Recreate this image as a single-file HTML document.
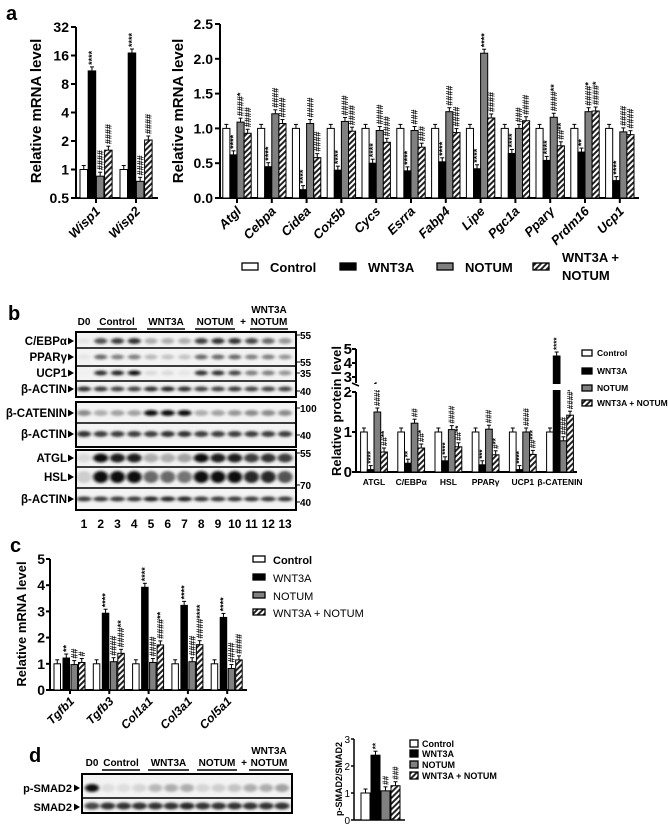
<!DOCTYPE html>
<html><head><meta charset="utf-8"><style>
html,body{margin:0;padding:0;background:#fff;}
svg{display:block;font-family:"Liberation Sans",Arial,sans-serif;}
</style></head><body>
<svg id="fig" width="668" height="827" viewBox="0 0 668 827" xmlns="http://www.w3.org/2000/svg">
<defs>
<pattern id="hatch" patternUnits="userSpaceOnUse" width="4" height="4" patternTransform="rotate(45)">
<rect width="4" height="4" fill="#fff"/><rect width="2" height="4" fill="#222"/>
</pattern>
<filter id="blur" x="-50%" y="-100%" width="200%" height="300%"><feGaussianBlur stdDeviation="1.6 1.2"/></filter>
</defs>
</svg>
<script>
// ---------- DATA ----------
const groups = ["Control","WNT3A","NOTUM","WNT3A + NOTUM"];
const aLeftCats = ["Wisp1","Wisp2"];
const aLeftCtrl = [1,1];
const aLeftWnt = [11,17];
const aLeftNot = [0.85,0.75];
const aLeftCombo = [1.6,2.05];
const aLeftTicks = [0.5,1,2,4,8,16,32];
const aLeftAnn = [["****","####","####"],["****","####","####"]];

const aRightCats = ["Atgl","Cebpa","Cidea","Cox5b","Cycs","Esrra","Fabp4","Lipe","Pgc1a","Ppar\u03b3","Prdm16","Ucp1"];
const aRightCtrl = [1,1,1,1,1,1,1,1,1,1,1,1];
const aRightWnt = [0.62,0.45,0.12,0.40,0.50,0.39,0.52,0.42,0.64,0.54,0.66,0.25];
const aRightNot = [1.09,1.21,1.07,1.10,0.97,0.97,1.24,2.08,1.00,1.16,1.24,0.95];
const aRightCombo = [0.93,1.07,0.58,0.96,0.80,0.73,0.94,1.15,1.11,0.75,1.25,0.91];
const aRightTicks = [0,0.5,1.0,1.5,2.0,2.5];
const aRightAnn = [["****","####*","####"],["****","####","####"],["****","####","####"],["****","####","####"],["****","####","####"],["****","###","###"],["****","####","####"],["****","****","####"],["****","###","####"],["****","####**","##**"],["**","####*","####*"],["****","####","####"]];

const bCats = ["ATGL","C/EBP\u03b1","HSL","PPAR\u03b3","UCP1","\u03b2-CATENIN"];
const bCtrl = [1,1,1,1,1,1];
const bWnt = [0.06,0.22,0.28,0.18,0.06,4.5];
const bNot = [1.5,1.22,1.06,1.07,1.0,0.78];
const bCombo = [0.5,0.6,0.63,0.43,0.44,1.42];
const bTicks = [0,1,2,3,4,5];
const bAnn = [["****","####**","##**"],["**","##","##*"],["****","####","##**"],["***","###","#**"],["****","####","##***"],["****","####","####*"]];

const cCats = ["Tgfb1","Tgfb3","Col1a1","Col3a1","Col5a1"];
const cCtrl = [1,1,1,1,1];
const cWnt = [1.22,2.93,3.92,3.23,2.77];
const cNot = [0.97,1.08,1.05,1.08,0.82];
const cCombo = [1.05,1.40,1.72,1.73,1.15];
const cTicks = [0,1,2,3,4,5];
const cAnn = [["**","##","#"],["****","####","####**"],["****","####","####**"],["****","####","####****"],["****","####","####"]];

const dCtrl = [1];
const dWnt = [2.4];
const dNot = [1.08];
const dCombo = [1.27];
const dTicks = [0,1,2,3];
const dAnn = [["**","##","###"]];

const laneNums = ["1","2","3","4","5","6","7","8","9","10","11","12","13"];
const bandCebpa = [0.05,0.7,0.8,0.85,0.3,0.3,0.3,0.8,0.85,0.85,0.75,0.6,0.4];
const bandPparg = [0.05,0.6,0.5,0.5,0.25,0.2,0.2,0.6,0.6,0.6,0.5,0.5,0.4];
const bandUcp1 = [0,0.85,0.9,1,0.1,0.1,0.05,0.85,0.85,0.75,0.5,0.5,0.4];
const bandActin1 = [0.85,0.8,0.75,0.75,0.85,0.9,0.85,0.75,0.75,0.8,0.75,0.75,0.75];
const bandCat = [0.45,0.3,0.35,0.35,1,1,1,0.3,0.35,0.4,0.45,0.45,0.45];
const bandActin2 = [0.85,0.8,0.8,0.8,0.8,0.85,0.85,0.8,0.8,0.8,0.8,0.8,0.8];
const bandAtgl = [0.1,1,0.95,0.95,0.3,0.3,0.35,1,0.95,0.95,0.8,0.85,0.8];
const bandHsl = [0.15,1,1,1,0.6,0.6,0.55,1,1,1,0.9,0.9,0.7];
const bandActin3 = [0.8,0.8,0.8,0.8,0.9,0.9,0.9,0.8,0.8,0.8,0.8,0.8,0.8];
const bandPsmad = [1,0.08,0.08,0.12,0.25,0.3,0.3,0.12,0.15,0.2,0.3,0.3,0.35];
const bandSmad = [0.75,0.85,0.85,0.85,0.85,0.85,0.9,0.85,0.85,0.85,0.85,0.85,0.85];

// ---------- HELPERS ----------
const svg = document.getElementById('fig');
const NS = "http://www.w3.org/2000/svg";
function el(tag, attrs, parent){
  const e = document.createElementNS(NS, tag);
  for (const k in attrs) e.setAttribute(k, attrs[k]);
  (parent||svg).appendChild(e);
  return e;
}
function txt(x,y,s,size,opts,parent){
  opts = opts||{};
  const t = el('text',{x:x,y:y,'font-size':size,'font-weight':opts.w||'bold','text-anchor':opts.a||'start',fill:opts.fill||'#000'},parent);
  if (opts.italic) t.setAttribute('font-style','italic');
  if (opts.tr) t.setAttribute('transform',opts.tr);
  t.textContent = s;
  return t;
}
const fills = ["#fff","#000","#808080","url(#hatch)"];
function legendSwatch(x,y,w,h,i,parent){
  return el('rect',{x:x,y:y,width:w,height:h,fill:fills[i],stroke:'#000','stroke-width':1.3},parent);
}

function drawBars(g, cats, series, yf, base, barX, barW, ann, annSize){
  for (let c=0;c<cats.length;c++){
    for (let s=0;s<4;s++){
      const v = series[s][c];
      const x = barX(c,s);
      const yt = yf(v);
      const b = el('rect',{x:x,y:Math.min(yt,base),width:barW,height:Math.abs(base-yt),fill:fills[s],stroke:'#000','stroke-width':1},g);
      
      
      el('line',{x1:x+barW/2,x2:x+barW/2,y1:yt,y2:yt-4,stroke:'#000','stroke-width':1},g);
      el('line',{x1:x+barW/2-2,x2:x+barW/2+2,y1:yt-4,y2:yt-4,stroke:'#000','stroke-width':1},g);
      if (s>0 && ann && ann[c][s-1]){
        const ax = x+barW/2+annSize*0.35, ay = Math.min(yt,base)-6;
        const a = txt(ax,ay,ann[c][s-1],annSize,{w:'bold',tr:'rotate(-90 '+ax+' '+ay+')'},g);
        
        
      }
    }
  }
}

// ---------- PANEL LABELS ----------
[['a',6,20],['b',8,320],['c',10,552],['d',29,762]].forEach(p=>{
  const t = txt(p[1],p[2],p[0],20,{});
  
  
});

// ---------- PANEL A LEFT ----------
(function(){
  const g = el('g',{});
  
  
  const x0 = 76, base = 198;
  const yf = v => base - Math.log2(v/0.5)*28.5;
  el('line',{x1:x0,x2:x0,y1:yf(32),y2:base,stroke:'#000','stroke-width':2},g);
  el('line',{x1:x0,x2:158,y1:base,y2:base,stroke:'#000','stroke-width':2},g);
  aLeftTicks.forEach(t=>{
    el('line',{x1:x0-5,x2:x0,y1:yf(t),y2:yf(t),stroke:'#000','stroke-width':2},g);
    const l = txt(x0-7,yf(t)+5,String(t),14,{a:'end'},g);
    
    
  });
  const yl = txt(0,0,'Relative mRNA level',15,{a:'middle',tr:'translate(41,111) rotate(-90)'},g);
  
  
  const centers = [96,136];
  drawBars(g,aLeftCats,[aLeftCtrl,aLeftWnt,aLeftNot,aLeftCombo],yf,base,(c,s)=>centers[c]-16+s*8.2,7.5,aLeftAnn,9);
  aLeftCats.forEach((c,i)=>{
    el('line',{x1:centers[i],x2:centers[i],y1:base,y2:base+5,stroke:'#000','stroke-width':2},g);
    const l = txt(centers[i]+5,base+14,c,13,{a:'end',italic:true,tr:'rotate(-45 '+(centers[i]+5)+' '+(base+14)+')'},g);
    
    
  });
})();

// ---------- PANEL A RIGHT ----------
(function(){
  const g = el('g',{});
  
  
  const x0 = 220, base = 198;
  const yf = v => base - v*69.6;
  el('line',{x1:x0,x2:x0,y1:yf(2.5),y2:base,stroke:'#000','stroke-width':2},g);
  el('line',{x1:x0,x2:639,y1:base,y2:base,stroke:'#000','stroke-width':2},g);
  aRightTicks.forEach(t=>{
    el('line',{x1:x0-5,x2:x0,y1:yf(t),y2:yf(t),stroke:'#000','stroke-width':2},g);
    const l = txt(x0-7,yf(t)+5,t.toFixed(1),14,{a:'end'},g);
    
    
  });
  const yl = txt(0,0,'Relative mRNA level',15,{a:'middle',tr:'translate(183,111) rotate(-90)'},g);
  
  
  const cx = i => 237 + i*34.8;
  drawBars(g,aRightCats,[aRightCtrl,aRightWnt,aRightNot,aRightCombo],yf,base,(c,s)=>cx(c)-14.2+s*7.1,7.1,aRightAnn,9);
  aRightCats.forEach((c,i)=>{
    el('line',{x1:cx(i),x2:cx(i),y1:base,y2:base+5,stroke:'#000','stroke-width':2},g);
    const l = txt(cx(i)+5,base+14,c,13,{a:'end',italic:true,tr:'rotate(-45 '+(cx(i)+5)+' '+(base+14)+')'},g);
    
    
  });
  const lg = el('g',{},g);
  
  
  const lx = [242,340,437,533], tx=[270,368,465,562];
  for (let i=0;i<4;i++){
    legendSwatch(lx[i],263,16,7,i,lg);
    if (i<3){ const t=txt(tx[i],272,groups[i],13,{},lg);   }
  }
  const t1 = txt(562,262,'WNT3A +',13,{},lg);
  
  
  const t2 = txt(562,280,'NOTUM',13,{},lg);
  
  
})();

// ---------- BLOT HELPERS ----------
function lanesX(i, x0, x1){ return x0 + i*(x1-x0)/12; }
function bandRow(g, vals, cy, h, x0, x1, bw){
  vals.forEach((v,i)=>{
    const x = lanesX(i,x0,x1);
    const shade = Math.round(240 - v*225);
    const b = el('ellipse',{cx:x,cy:cy,rx:bw/2,ry:h/2,fill:'rgb('+shade+','+shade+','+shade+')',filter:'url(#blur)'},g);
    
    
  });
}
function header(g, y, opts){
  const t = (X,Y,s)=>{ const e=txt(X,Y,s,10,{a:'middle'},g);   return e; };
  t(opts.d0,y,'D0');
  const gr = opts.groups;
  const names = ['Control','WNT3A','NOTUM'];
  for (let i=0;i<3;i++){
    t((gr[i][0]+gr[i][1])/2,y,names[i]);
    el('line',{x1:gr[i][0],x2:gr[i][1],y1:y+4,y2:y+4,stroke:'#000','stroke-width':1.5},g);
  }
  t(opts.plus,y,'+');
  t((gr[3][0]+gr[3][1])/2,y,'NOTUM');
  el('line',{x1:gr[3][0],x2:gr[3][1],y1:y+4,y2:y+4,stroke:'#000','stroke-width':1.5},g);
  t((gr[3][0]+gr[3][1])/2,y-12,'WNT3A');
}

// ---------- PANEL B BLOT ----------
(function(){
  const g = el('g',{});
  
  
  header(g,325,{d0:84,plus:243,groups:[[97,137],[147,185],[195,235],[250,288]]});
  const X0=76,X1=296, L0=84, L1=285;
  const boxes = [[332,397],[402,447],[450,510]];
  boxes.forEach(b=>el('rect',{x:X0,y:b[0],width:X1-X0,height:b[1]-b[0],fill:'#f3f3f3',stroke:'none'},g));
  bandRow(g,bandCebpa,341,6,L0,L1,13);
  bandRow(g,bandPparg,357,5,L0,L1,13);
  bandRow(g,bandUcp1,373,5,L0,L1,13);
  bandRow(g,bandActin1,389,5,L0,L1,14);
  bandRow(g,bandCat,413,6,L0,L1,14);
  bandRow(g,bandActin2,434,6,L0,L1,14);
  bandRow(g,bandAtgl,458,9,L0,L1,15);
  bandRow(g,bandHsl,477,12,L0,L1,15);
  bandRow(g,bandActin3,499,5,L0,L1,15);
  boxes.forEach(b=>el('rect',{x:X0,y:b[0],width:X1-X0,height:b[1]-b[0],fill:'none',stroke:'#000','stroke-width':2},g));
  [348,366,381,423,467,488].forEach(y=>el('line',{x1:X0,x2:X1,y1:y,y2:y,stroke:'#000','stroke-width':1.5},g));
  const rows = [['C/EBP\u03b1',341],['PPAR\u03b3',357],['UCP1',373],['\u03b2-ACTIN',389],['\u03b2-CATENIN',413],['\u03b2-ACTIN',434],['ATGL',458],['HSL',477],['\u03b2-ACTIN',499]];
  rows.forEach(r=>{
    const t = txt(67,r[1]+4,r[0],11.5,{a:'end'},g);
    
    
    el('path',{d:'M68 '+(r[1]-3.5)+' L74 '+r[1]+' L68 '+(r[1]+3.5)+' Z',fill:'#000'},g);
  });
  const mw = [['55',335],['55',362],['35',373],['40',391],['100',408],['40',435],['55',453],['70',485],['40',502]];
  mw.forEach(m=>{
    el('line',{x1:296,x2:300,y1:m[1],y2:m[1],stroke:'#000','stroke-width':1},g);
    const t = txt(300,m[1]+4,m[0],10,{},g);
    
    
  });
  laneNums.forEach((n,i)=>{
    const t = txt(lanesX(i,L0,L1),528,n,12,{a:'middle'},g);
    
    
  });
})();

// ---------- PANEL B CHART ----------
(function(){
  const g = el('g',{});
  
  
  const x0 = 356, base = 472;
  const yf = v => v<=2.6 ? base - v*40 : 377 - (v-3)*14;
  el('line',{x1:x0,x2:x0,y1:yf(2),y2:base,stroke:'#000','stroke-width':2},g);
  el('line',{x1:x0,x2:x0,y1:yf(5),y2:383,stroke:'#000','stroke-width':2},g);
  el('line',{x1:x0,x2:577,y1:base,y2:base,stroke:'#000','stroke-width':2},g);
  bTicks.forEach(t=>{
    el('line',{x1:x0-4,x2:x0,y1:yf(t),y2:yf(t),stroke:'#000','stroke-width':2},g);
    const l = txt(x0-4,yf(t)+5,String(t),15,{a:'end'},g);
    
    
  });
  const yl = txt(0,0,'Relative protein level',13,{a:'middle',tr:'translate(341,411) rotate(-90)'},g);
  
  
  const cx = i => 374 + i*37.2;
  drawBars(g,bCats,[bCtrl,bWnt,bNot,bCombo],yf,base,(c,s)=>cx(c)-13.4+s*6.7,6.7,bAnn,8);
  el('rect',{x:x0-6,y:384,width:240,height:6,fill:'#fff'},g);
  el('line',{x1:x0-4,x2:x0+3,y1:383,y2:386,stroke:'#000','stroke-width':1.5},g);
  bCats.forEach((c,i)=>{
    const l = txt(cx(i),485,c,8.5,{a:'middle'},g);
    
    
  });
  const ly=[353,371,388,403];
  for (let i=0;i<4;i++){
    legendSwatch(582,ly[i]-3,10,6,i,g);
    const t = txt(597,ly[i]+3,groups[i],8.5,{},g);
    
    
  }
})();

// ---------- PANEL C ----------
(function(){
  const g = el('g',{});
  
  
  const x0 = 50, base = 690;
  const yf = v => base - v*26.2;
  el('line',{x1:x0,x2:x0,y1:yf(5),y2:base,stroke:'#000','stroke-width':2},g);
  el('line',{x1:x0,x2:247,y1:base,y2:base,stroke:'#000','stroke-width':2},g);
  cTicks.forEach(t=>{
    el('line',{x1:x0-4,x2:x0,y1:yf(t),y2:yf(t),stroke:'#000','stroke-width':2},g);
    const l = txt(x0-5,yf(t)+5,String(t),14,{a:'end'},g);
    
    
  });
  const yl = txt(0,0,'Relative mRNA level',13,{a:'middle',tr:'translate(26,624) rotate(-90)'},g);
  
  
  const st = i => 54 + i*39.3;
  const off = [0,9,17,24.5];
  drawBars(g,cCats,[cCtrl,cWnt,cNot,cCombo],yf,base,(c,s)=>st(c)+off[s],6.5,cAnn,9);
  cCats.forEach((c,i)=>{
    const cx = st(i)+16;
    el('line',{x1:cx,x2:cx,y1:base,y2:base+4,stroke:'#000','stroke-width':2},g);
    const l = txt(cx+5,base+12,c,12,{a:'end',italic:true,tr:'rotate(-45 '+(cx+5)+' '+(base+12)+')'},g);
    
    
  });
  const ly=[560,578,596,613];
  for (let i=0;i<4;i++){
    legendSwatch(253,ly[i]-4,12,6,i,g);
    const t = txt(273,ly[i]+4,groups[i],11,{w:i==0?'bold':'normal'},g);
    
    
  }
})();

// ---------- PANEL D BLOT ----------
(function(){
  const g = el('g',{});
  
  
  header(g,766,{d0:92,plus:244,groups:[[102,140],[148,189],[197,237],[249,289]]});
  const X0=82,X1=292,L0=92,L1=282;
  el('rect',{x:X0,y:774,width:X1-X0,height:39,fill:'#f3f3f3'},g);
  bandRow(g,bandPsmad,788,8,L0,L1,14);
  bandRow(g,bandSmad,806,7,L0,L1,15);
  el('rect',{x:X0,y:774,width:X1-X0,height:39,fill:'none',stroke:'#000','stroke-width':2},g);
  el('line',{x1:X0,x2:X1,y1:798,y2:798,stroke:'#000','stroke-width':1.5},g);
  [['p-SMAD2',788],['SMAD2',807]].forEach(r=>{
    const t = txt(72,r[1]+4,r[0],11,{a:'end'},g);
    
    
    el('path',{d:'M74 '+(r[1]-3.5)+' L80 '+r[1]+' L74 '+(r[1]+3.5)+' Z',fill:'#000'},g);
  });
})();

// ---------- PANEL D CHART ----------
(function(){
  const g = el('g',{});
  
  
  const x0 = 354, base = 820;
  const yf = v => base - v*27;
  el('line',{x1:x0,x2:x0,y1:yf(3),y2:base,stroke:'#000','stroke-width':1.5},g);
  el('line',{x1:x0,x2:405,y1:base,y2:base,stroke:'#000','stroke-width':1.5},g);
  dTicks.forEach(t=>{
    el('line',{x1:x0-3,x2:x0,y1:yf(t),y2:yf(t),stroke:'#000','stroke-width':1.5},g);
    const l = txt(x0-4,yf(t)+4,String(t),10,{a:'end',w:'normal'},g);
    
    
  });
  const yl = txt(0,0,'p-SMAD2/SMAD2',9,{a:'middle',tr:'translate(342,779) rotate(-90)'},g);
  
  
  drawBars(g,['d'],[dCtrl,dWnt,dNot,dCombo],yf,base,(c,s)=>361+s*10,9,dAnn,8);
  const ly=[744,754,765,776];
  for (let i=0;i<4;i++){
    legendSwatch(410,ly[i]-4,8,7,i,g);
    const t = txt(422,ly[i]+3,groups[i],9,{},g);
    
    
  }
})();
</script>
</body></html>
